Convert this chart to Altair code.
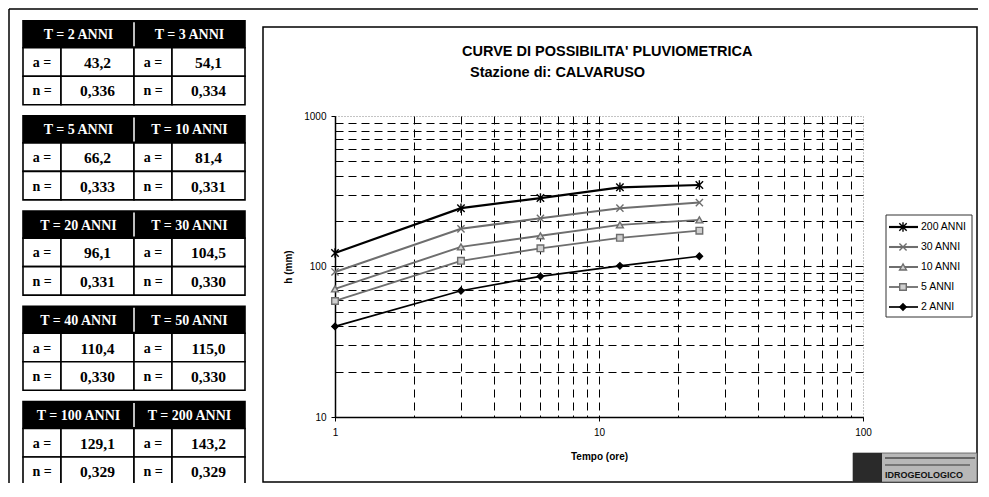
import altair as alt
import pandas as pd

# ---------------- data ----------------
durations = [1, 3, 6, 12, 24]
series_names = ["200 ANNI", "30 ANNI", "10 ANNI", "5 ANNI", "2 ANNI"]
h_200 = [123, 244, 285, 336, 348]
h_30 = [92, 178, 209, 244, 266]
h_10 = [71, 135, 160, 189, 204]
h_5 = [59, 109, 132, 155, 173]
h_2 = [40, 69, 86, 101, 117]

periods = [2, 3, 5, 10, 20, 30, 40, 50, 100, 200]
a_vals = [43.2, 54.1, 66.2, 81.4, 96.1, 104.5, 110.4, 115.0, 129.1, 143.2]
n_vals = [0.336, 0.334, 0.333, 0.331, 0.331, 0.330, 0.330, 0.330, 0.329, 0.329]

title_text = "CURVE DI POSSIBILITA' PLUVIOMETRICA"
subtitle_text = "Stazione di: CALVARUSO"
x_title = "Tempo (ore)"
y_title = "h (mm)"
x_ticks = [1, 10, 100]
y_ticks = [10, 100, 1000]
logo_text = "IDROGEOLOGICO"

# ---------------- layout ----------------
OX, OY = 335, 116          # page position of plot origin
W, H = 528, 301


def rx(px):
    return px - OX


def ry(py):
    return py - OY


FONT = "Liberation Sans"
SERIF = "Liberation Serif"

rows = []
for name, vals in zip(series_names, [h_200, h_30, h_10, h_5, h_2]):
    for t, h in zip(durations, vals):
        rows.append({"serie": name, "t": t, "h": h})
df = pd.DataFrame(rows)

x_values = list(range(1, 10)) + list(range(10, 101, 10))
y_values = list(range(10, 100, 10)) + list(range(100, 1001, 100))

line_colors = ["#000000", "#6e6e6e", "#6e6e6e", "#6e6e6e", "#000000"]
line_widths = [2.2, 1.7, 1.7, 1.7, 2.2]
marker_shapes = ["M-1,-1L1,1M-1,1L1,-1M0,-1.3L0,1.3", "M-1,-1L1,1M-1,1L1,-1",
                 "triangle-up", "square", "diamond"]
marker_fills = ["transparent", "transparent", "#cfcfcf", "#cfcfcf", "#000000"]
marker_sizes = [55, 40, 40, 36, 40]

stroke_scale = alt.Scale(domain=series_names, range=line_colors)
width_scale = alt.Scale(domain=series_names, range=line_widths)
shape_scale = alt.Scale(domain=series_names, range=marker_shapes)
fill_scale = alt.Scale(domain=series_names, range=marker_fills)
size_scale = alt.Scale(domain=series_names, range=marker_sizes)

xs = alt.Scale(type="log", domain=[1, 100], nice=False)
ys = alt.Scale(type="log", domain=[10, 1000], nice=False)

x_axis = alt.Axis(
    values=x_values,
    labelExpr=f"indexof({x_ticks}, datum.value) >= 0 ? format(datum.value, 'd') : ''",
    grid=True, gridDash=[8, 5], gridColor="black", gridWidth=1,
    gridOpacity={"condition": {"test": "datum.value >= 100", "value": 0}, "value": 1},
    ticks=True, tickSize=4, tickColor="black",
    tickOpacity={"condition": {"test": f"indexof({x_ticks}, datum.value) >= 0", "value": 1}, "value": 0},
    domainColor="black", domainWidth=1.5,
    labelFont=FONT, labelFontSize=10, labelColor="black", labelPadding=6,
    labelOverlap=False, labelFlush=False,
    title=x_title, titleFont=FONT, titleFontSize=10, titleFontWeight="bold",
    titleColor="black", titlePadding=14,
)
y_axis = alt.Axis(
    values=y_values,
    labelExpr=f"indexof({y_ticks}, datum.value) >= 0 ? format(datum.value, 'd') : ''",
    grid=True, gridDash=[8, 5], gridColor="black", gridWidth=1,
    gridOpacity={"condition": {"test": "datum.value >= 1000", "value": 0}, "value": 1},
    ticks=True, tickSize=4, tickColor="black",
    tickOpacity={"condition": {"test": f"indexof({y_ticks}, datum.value) >= 0", "value": 1}, "value": 0},
    domainColor="black", domainWidth=1.5,
    labelFont=FONT, labelFontSize=10, labelColor="black", labelPadding=5,
    labelOverlap=False, labelFlush=False,
    title=y_title, titleFont=FONT, titleFontSize=10, titleFontWeight="bold",
    titleColor="black", titlePadding=10,
)

one = pd.DataFrame({"k": [0]})

# ---------------- frames ----------------
outer_top = alt.Chart(one).mark_rule(color="black", strokeWidth=1.5).encode(
    x=alt.value(rx(9)), x2=alt.value(rx(978)), y=alt.value(ry(9)))
outer_left = alt.Chart(one).mark_rule(color="black", strokeWidth=1.5).encode(
    x=alt.value(rx(9)), y=alt.value(ry(9)), y2=alt.value(ry(483)))
chart_box = alt.Chart(one).mark_rect(fillOpacity=0, stroke="black", strokeWidth=1.5).encode(
    x=alt.value(rx(263)), x2=alt.value(rx(977)), y=alt.value(ry(27)), y2=alt.value(ry(482)))

# ---------------- tables ----------------
col_edges = [0, 38, 111, 149, 222]
TAB_STEP, HEAD_H, ROW_H = 95.2, 27, 28.5
head_cells, body_cells, seps, head_txt, lab_txt, val_txt = [], [], [], [], [], []
for k in range(5):
    top = k * TAB_STEP
    head_cells.append({"x1": 0, "x2": 222, "y1": top, "y2": top + HEAD_H})
    seps.append({"x": 111, "y1": top + 1.5, "y2": top + HEAD_H - 1.5})
    for side in range(2):
        idx = 2 * k + side
        c0, c1, c2 = col_edges[2 * side], col_edges[2 * side + 1], col_edges[2 * side + 2]
        head_txt.append({"x": (c0 + c2) / 2, "y": top + HEAD_H / 2,
                         "label": f"T = {periods[idx]} ANNI"})
        for r, (lab, val) in enumerate([("a =", f"{a_vals[idx]:.1f}".replace(".", ",")),
                                         ("n =", f"{n_vals[idx]:.3f}".replace(".", ","))]):
            y1 = top + HEAD_H + r * ROW_H
            y2 = y1 + ROW_H
            body_cells.append({"x1": c0, "x2": c1, "y1": y1, "y2": y2})
            body_cells.append({"x1": c1, "x2": c2, "y1": y1, "y2": y2})
            lab_txt.append({"x": (c0 + c1) / 2, "y": (y1 + y2) / 2, "label": lab})
            val_txt.append({"x": (c1 + c2) / 2, "y": (y1 + y2) / 2, "label": val})

tx = alt.Scale(domain=[0, 222], range=[rx(23), rx(245)], nice=False, zero=False)
ty = alt.Scale(domain=[0, 466], range=[ry(20.7), ry(486.7)], nice=False, zero=False)


def cell_layer(data, fill):
    return alt.Chart(pd.DataFrame(data)).mark_rect(fill=fill, stroke="black", strokeWidth=1.6).encode(
        x=alt.X("x1:Q", scale=tx, axis=None), x2="x2:Q",
        y=alt.Y("y1:Q", scale=ty, axis=None), y2="y2:Q")


def text_layer(data, size, color):
    return alt.Chart(pd.DataFrame(data)).mark_text(
        font=SERIF, fontWeight="bold", fontSize=size, color=color,
        align="center", baseline="middle", dy=1).encode(
        x=alt.X("x:Q", scale=tx, axis=None),
        y=alt.Y("y:Q", scale=ty, axis=None),
        text="label:N")


head_layer = cell_layer(head_cells, "black")
body_layer = cell_layer(body_cells, "white")
sep_layer = alt.Chart(pd.DataFrame(seps)).mark_rule(color="white", strokeWidth=1.5).encode(
    x=alt.X("x:Q", scale=tx, axis=None),
    y=alt.Y("y1:Q", scale=ty, axis=None), y2="y2:Q")
head_text = text_layer(head_txt, 14, "white")
lab_text = text_layer(lab_txt, 14, "black")
val_text = text_layer(val_txt, 15.5, "black")

# ---------------- titles ----------------
title_layer = alt.Chart(pd.DataFrame({"t": [title_text]})).mark_text(
    font=FONT, fontWeight="bold", fontSize=14.5, color="black", align="left", baseline="middle").encode(
    x=alt.value(rx(462)), y=alt.value(ry(52)), text="t:N")
subtitle_layer = alt.Chart(pd.DataFrame({"t": [subtitle_text]})).mark_text(
    font=FONT, fontWeight="bold", fontSize=14.5, color="black", align="left", baseline="middle").encode(
    x=alt.value(rx(470)), y=alt.value(ry(73)), text="t:N")

# ---------------- curves ----------------
lines = alt.Chart(df).mark_line().encode(
    x=alt.X("t:Q", scale=xs, axis=x_axis),
    y=alt.Y("h:Q", scale=ys, axis=y_axis),
    stroke=alt.Stroke("serie:N", scale=stroke_scale, legend=None),
    strokeWidth=alt.StrokeWidth("serie:N", scale=width_scale, legend=None),
)
points = alt.Chart(df).mark_point(strokeWidth=1.4, opacity=1).encode(
    x=alt.X("t:Q", scale=xs, axis=None),
    y=alt.Y("h:Q", scale=ys, axis=None),
    shape=alt.Shape("serie:N", scale=shape_scale, legend=None),
    stroke=alt.Stroke("serie:N", scale=stroke_scale, legend=None),
    fill=alt.Fill("serie:N", scale=fill_scale, legend=None),
    size=alt.Size("serie:N", scale=size_scale, legend=None),
)

# ---------------- legend ----------------
df_leg = pd.DataFrame({"serie": series_names})
leg_seg = pd.DataFrame([{"serie": s, "pos": p} for s in series_names for p in (0, 1)])
leg_y = alt.Y("serie:N", scale=alt.Scale(domain=series_names, range=[ry(227), ry(307)], padding=0),
              axis=None)
leg_box = alt.Chart(one).mark_rect(fill="white", stroke="#333333", strokeWidth=1).encode(
    x=alt.value(rx(886)), x2=alt.value(rx(972)), y=alt.value(ry(215)), y2=alt.value(ry(317)))
leg_lines = alt.Chart(leg_seg).mark_line().encode(
    x=alt.X("pos:Q", scale=alt.Scale(domain=[0, 1], range=[rx(889), rx(918)], nice=False, zero=False),
            axis=None),
    y=leg_y,
    detail="serie:N",
    stroke=alt.Stroke("serie:N", scale=stroke_scale, legend=None),
    strokeWidth=alt.StrokeWidth("serie:N", scale=width_scale, legend=None))
leg_points = alt.Chart(df_leg).mark_point(strokeWidth=1.4, opacity=1).encode(
    x=alt.value(rx(903)), y=leg_y,
    shape=alt.Shape("serie:N", scale=shape_scale, legend=None),
    stroke=alt.Stroke("serie:N", scale=stroke_scale, legend=None),
    fill=alt.Fill("serie:N", scale=fill_scale, legend=None),
    size=alt.Size("serie:N", scale=size_scale, legend=None))
leg_text = alt.Chart(df_leg).mark_text(font=FONT, fontSize=10.5, color="black",
                                       align="left", baseline="middle").encode(
    x=alt.value(rx(921)), y=leg_y, text="serie:N")

# ---------------- logo ----------------
logo_light = alt.Chart(one).mark_rect(fill="#b8b8b8", stroke="#555555", strokeWidth=0.8).encode(
    x=alt.value(rx(853)), x2=alt.value(rx(977)), y=alt.value(ry(453)), y2=alt.value(ry(482)))
logo_dark = alt.Chart(one).mark_rect(fill="#2a2a2a").encode(
    x=alt.value(rx(853)), x2=alt.value(rx(882)), y=alt.value(ry(453)), y2=alt.value(ry(482)))
logo_l1 = alt.Chart(one).mark_rule(color="#666666", strokeWidth=2).encode(
    x=alt.value(rx(885)), x2=alt.value(rx(975)), y=alt.value(ry(458)))
logo_l2 = alt.Chart(one).mark_rule(color="#777777", strokeWidth=2).encode(
    x=alt.value(rx(885)), x2=alt.value(rx(970)), y=alt.value(ry(465)))
logo_txt = alt.Chart(pd.DataFrame({"t": [logo_text]})).mark_text(
    font=FONT, fontWeight="bold", fontSize=9, color="#111111", align="left", baseline="middle").encode(
    x=alt.value(rx(885)), y=alt.value(ry(475)), text="t:N")

chart = alt.layer(
    outer_top, outer_left, chart_box,
    head_layer, body_layer, sep_layer, head_text, lab_text, val_text,
    title_layer, subtitle_layer,
    lines, points,
    leg_box, leg_lines, leg_points, leg_text,
    logo_light, logo_dark, logo_l1, logo_l2, logo_txt,
).resolve_scale(
    x="independent", y="independent"
).properties(
    width=W, height=H,
    padding={"left": 327, "top": 108, "right": 115, "bottom": 66},
    autosize=alt.AutoSizeParams(type="none"),
    background="white",
).configure_view(
    stroke="#888888", strokeDash=[1, 2], strokeWidth=1
)

chart.save("out.html", embed_options={"renderer": "svg", "actions": False})
